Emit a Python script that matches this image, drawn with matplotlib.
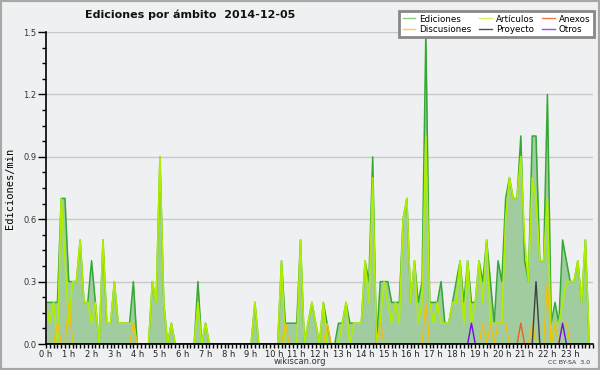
import numpy as np
import matplotlib
matplotlib.use('Agg')
import matplotlib.pyplot as plt
from matplotlib.ticker import MultipleLocator, FixedLocator, FormatStrFormatter
from matplotlib.lines import Line2D
from matplotlib.patches import Rectangle

# 10-minute bins over the day (minutes since 00:00)
minutes = np.arange(0, 1440, 10)

hour_labels = [f"{h} h" for h in range(24)]

ediciones = [
    0.2, 0.2, 0.2, 0.2, 0.7, 0.7, 0.3, 0.3, 0.3, 0.5, 0.2, 0.2,
    0.4, 0.2, 0.0, 0.5, 0.1, 0.1, 0.3, 0.1, 0.1, 0.1, 0.1, 0.3,
    0.0, 0.0, 0.0, 0.0, 0.3, 0.2, 0.9, 0.2, 0.0, 0.1, 0.0, 0.0,
    0.0, 0.0, 0.0, 0.0, 0.3, 0.0, 0.1, 0.0, 0.0, 0.0, 0.0, 0.0,
    0.0, 0.0, 0.0, 0.0, 0.0, 0.0, 0.0, 0.2, 0.0, 0.0, 0.0, 0.0,
    0.0, 0.0, 0.4, 0.1, 0.1, 0.1, 0.1, 0.5, 0.0, 0.1, 0.2, 0.1,
    0.0, 0.2, 0.1, 0.0, 0.0, 0.1, 0.1, 0.2, 0.1, 0.1, 0.1, 0.1,
    0.4, 0.3, 0.9, 0.0, 0.3, 0.3, 0.3, 0.2, 0.2, 0.2, 0.6, 0.7,
    0.2, 0.4, 0.2, 0.3, 1.5, 0.2, 0.2, 0.2, 0.3, 0.1, 0.1, 0.2,
    0.3, 0.4, 0.2, 0.4, 0.2, 0.2, 0.4, 0.3, 0.5, 0.3, 0.1, 0.4,
    0.3, 0.7, 0.8, 0.7, 0.7, 1.0, 0.4, 0.3, 1.0, 1.0, 0.4, 0.4,
    1.2, 0.1, 0.2, 0.1, 0.5, 0.4, 0.3, 0.3, 0.4, 0.2, 0.5, 0.0,
]

articulos = [
    0.2, 0.1, 0.2, 0.0, 0.7, 0.4, 0.1, 0.3, 0.3, 0.5, 0.2, 0.2,
    0.1, 0.2, 0.0, 0.5, 0.1, 0.1, 0.3, 0.1, 0.1, 0.1, 0.1, 0.1,
    0.0, 0.0, 0.0, 0.0, 0.3, 0.2, 0.9, 0.2, 0.0, 0.1, 0.0, 0.0,
    0.0, 0.0, 0.0, 0.0, 0.2, 0.0, 0.1, 0.0, 0.0, 0.0, 0.0, 0.0,
    0.0, 0.0, 0.0, 0.0, 0.0, 0.0, 0.0, 0.2, 0.0, 0.0, 0.0, 0.0,
    0.0, 0.0, 0.4, 0.0, 0.0, 0.0, 0.0, 0.5, 0.0, 0.1, 0.2, 0.1,
    0.0, 0.2, 0.0, 0.0, 0.0, 0.0, 0.1, 0.2, 0.0, 0.1, 0.1, 0.1,
    0.4, 0.2, 0.8, 0.0, 0.1, 0.3, 0.2, 0.1, 0.2, 0.1, 0.6, 0.7,
    0.2, 0.4, 0.1, 0.2, 1.0, 0.2, 0.1, 0.2, 0.1, 0.1, 0.1, 0.2,
    0.2, 0.4, 0.1, 0.4, 0.1, 0.2, 0.4, 0.2, 0.5, 0.1, 0.1, 0.1,
    0.1, 0.6, 0.8, 0.7, 0.7, 0.9, 0.5, 0.3, 0.8, 0.7, 0.4, 0.4,
    0.7, 0.0, 0.1, 0.1, 0.2, 0.3, 0.3, 0.3, 0.4, 0.2, 0.5, 0.0,
]

discusiones = [
    0, 0, 0, 0.1, 0, 0, 0.2, 0, 0, 0, 0, 0,
    0, 0, 0, 0, 0, 0, 0, 0, 0, 0, 0, 0.1,
    0, 0, 0, 0, 0, 0, 0, 0, 0, 0, 0, 0,
    0, 0, 0, 0, 0, 0, 0, 0, 0, 0, 0, 0,
    0, 0, 0, 0, 0, 0, 0, 0, 0, 0, 0, 0,
    0, 0, 0, 0.1, 0, 0, 0, 0, 0, 0, 0, 0,
    0, 0, 0.1, 0, 0, 0, 0, 0, 0, 0, 0, 0,
    0, 0, 0, 0, 0.1, 0, 0, 0, 0, 0, 0, 0,
    0, 0, 0, 0, 0.2, 0, 0, 0, 0, 0, 0, 0,
    0, 0, 0, 0, 0, 0, 0, 0.1, 0, 0.1, 0, 0.1,
    0.1, 0.1, 0, 0, 0, 0, 0, 0, 0.1, 0, 0, 0,
    0.3, 0, 0.1, 0, 0.1, 0.1, 0, 0, 0, 0, 0, 0,
]

anexos = [
    0, 0, 0, 0, 0, 0, 0, 0, 0, 0, 0, 0,
    0, 0, 0, 0, 0, 0, 0, 0, 0, 0, 0, 0,
    0, 0, 0, 0, 0, 0, 0, 0, 0, 0, 0, 0,
    0, 0, 0, 0, 0, 0, 0, 0, 0, 0, 0, 0,
    0, 0, 0, 0, 0, 0, 0, 0, 0, 0, 0, 0,
    0, 0, 0, 0, 0, 0, 0, 0, 0, 0, 0, 0,
    0, 0, 0, 0, 0, 0, 0, 0, 0, 0, 0, 0,
    0, 0, 0, 0, 0, 0, 0, 0, 0, 0, 0, 0,
    0, 0, 0, 0, 0, 0, 0, 0, 0, 0, 0, 0,
    0, 0, 0, 0, 0, 0, 0, 0, 0, 0, 0, 0,
    0, 0, 0, 0, 0, 0.1, 0, 0, 0, 0, 0, 0,
    0, 0, 0, 0, 0, 0, 0, 0, 0, 0, 0, 0,
]

proyecto = [
    0, 0, 0, 0, 0, 0, 0, 0, 0, 0, 0, 0,
    0, 0, 0, 0, 0, 0, 0, 0, 0, 0, 0, 0,
    0, 0, 0, 0, 0, 0, 0, 0, 0, 0, 0, 0,
    0, 0, 0, 0, 0, 0, 0, 0, 0, 0, 0, 0,
    0, 0, 0, 0, 0, 0, 0, 0, 0, 0, 0, 0,
    0, 0, 0, 0, 0, 0, 0, 0, 0, 0, 0, 0,
    0, 0, 0, 0, 0, 0, 0, 0, 0, 0, 0, 0,
    0, 0, 0, 0, 0, 0, 0, 0, 0, 0, 0, 0,
    0, 0, 0, 0, 0, 0, 0, 0, 0, 0, 0, 0,
    0, 0, 0, 0, 0, 0, 0, 0, 0, 0, 0, 0,
    0, 0, 0, 0, 0, 0, 0, 0, 0, 0.3, 0, 0,
    0, 0, 0, 0, 0, 0, 0, 0, 0, 0, 0, 0,
]

otros = [
    0, 0, 0, 0, 0, 0, 0, 0, 0, 0, 0, 0,
    0, 0, 0, 0, 0, 0, 0, 0, 0, 0, 0, 0,
    0, 0, 0, 0, 0, 0, 0, 0, 0, 0, 0, 0,
    0, 0, 0, 0, 0, 0, 0, 0, 0, 0, 0, 0,
    0, 0, 0, 0, 0, 0, 0, 0, 0, 0, 0, 0,
    0, 0, 0, 0, 0, 0, 0, 0, 0, 0, 0, 0,
    0, 0, 0, 0, 0, 0, 0, 0, 0, 0, 0, 0,
    0, 0, 0, 0, 0, 0, 0, 0, 0, 0, 0, 0,
    0, 0, 0, 0, 0, 0, 0, 0, 0, 0, 0, 0,
    0, 0, 0, 0, 0.1, 0, 0, 0, 0, 0, 0, 0,
    0, 0, 0, 0, 0, 0, 0, 0, 0, 0, 0, 0,
    0, 0, 0, 0, 0.1, 0, 0, 0, 0, 0, 0, 0,
]

BG = '#eff0f1'
fig = plt.figure(figsize=(6, 3.7), dpi=100, facecolor=BG)
ax = fig.add_axes([46 / 600, 26 / 370, 547 / 600, 312 / 370])
ax.set_facecolor(BG)

x = minutes / 60.0
ax.fill_between(x, 0, ediciones, color='#a0cca0', lw=0, zorder=1)
ax.plot(x, ediciones, color='#33a833', lw=1.1, zorder=3)
ax.plot(x, articulos, color='#b0ee00', lw=1.2, zorder=4)
ax.plot(x, discusiones, color='#f0c010', lw=1.0, zorder=5)
ax.plot(x, anexos, color='#f06020', lw=1.0, zorder=5)
ax.plot(x, proyecto, color='#404040', lw=1.0, zorder=5)
ax.plot(x, otros, color='#7010e0', lw=1.0, zorder=5)

ax.set_xlim(0, 24)
ax.set_ylim(0, 1.5)

ax.yaxis.set_major_locator(MultipleLocator(0.3))
ax.yaxis.set_minor_locator(MultipleLocator(0.075))
ax.yaxis.set_major_formatter(FormatStrFormatter('%.1f'))
ax.xaxis.set_major_locator(FixedLocator(list(range(24))))
ax.set_xticklabels(hour_labels)
ax.xaxis.set_minor_locator(MultipleLocator(1 / 6))

ax.tick_params(axis='y', which='major', length=6, width=1, labelsize=6,
               labelcolor='#333333', pad=1)
ax.tick_params(axis='y', which='minor', length=3, width=1)
ax.tick_params(axis='x', which='major', length=3, width=1, labelsize=6,
               labelcolor='#222222', pad=1)
ax.tick_params(axis='x', which='minor', length=3, width=1)

ax.grid(axis='y', which='major', color='#c8c8c8', lw=1)
ax.set_axisbelow(True)
for s in ('top', 'right'):
    ax.spines[s].set_visible(False)
for s in ('left', 'bottom'):
    ax.spines[s].set_linewidth(1.2)
    ax.spines[s].set_zorder(6)

fig.text(85 / 600, 1 - 18 / 370, 'Ediciones por ámbito  2014-12-05',
         fontsize=8, fontweight='bold', ha='left', va='baseline', color='#111111')
fig.text(10 / 600, 1 - 188 / 370, 'Ediciones/min', rotation=90,
         family='DejaVu Sans Mono', fontsize=7.5, ha='center', va='center')
fig.text(300 / 600, 1 - 362 / 370, 'wikiscan.org', fontsize=6,
         ha='center', va='center', color='#333333')
fig.text(590 / 600, 1 - 362 / 370, 'CC BY-SA  3.0', fontsize=4.5,
         ha='right', va='center', color='#333333')

handles = [
    Line2D([], [], color='#80d080', lw=1, label='Ediciones'),
    Line2D([], [], color='#f8d040', lw=1, label='Discusiones'),
    Line2D([], [], color='#d0f060', lw=1, label='Artículos'),
    Line2D([], [], color='#505050', lw=1, label='Proyecto'),
    Line2D([], [], color='#f07848', lw=1, label='Anexos'),
    Line2D([], [], color='#9050f0', lw=1, label='Otros'),
]
leg = fig.legend(handles=handles, ncol=3, loc='upper right',
                 bbox_to_anchor=(594 / 600, 1 - 11 / 370), fontsize=6.3,
                 frameon=True, fancybox=False, framealpha=1,
                 edgecolor='#888888', facecolor='white',
                 handlelength=1.4, handletextpad=0.5, columnspacing=0.9,
                 labelspacing=0.15, borderpad=0.4, borderaxespad=0)
leg.get_frame().set_linewidth(2)

fig.patches.append(Rectangle((0, 0), 1, 1, transform=fig.transFigure,
                             fill=False, edgecolor='#a8a8a8', lw=3))

fig.savefig('out.png', dpi=100, facecolor=BG)
